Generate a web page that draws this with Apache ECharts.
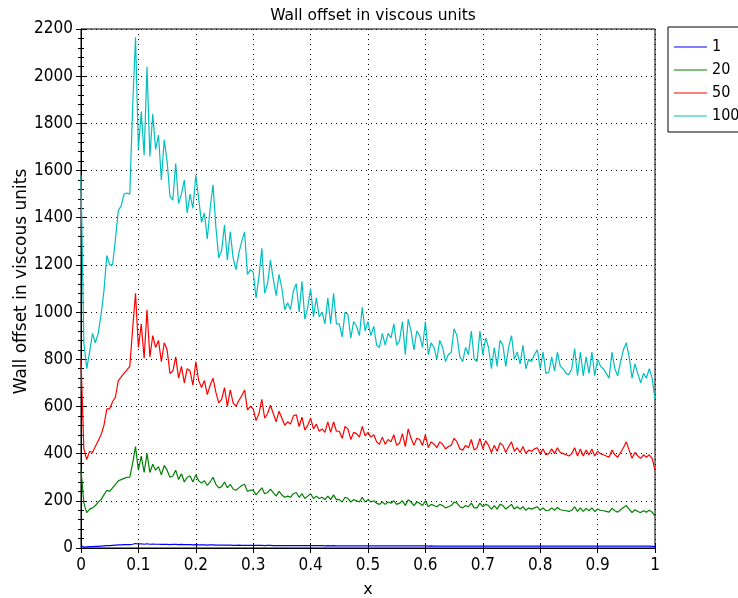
<!DOCTYPE html>
<html>
<head>
<meta charset="utf-8">
<script src="https://cdn.jsdelivr.net/npm/echarts@6/dist/echarts.min.js"></script>
<style>
  html, body { margin: 0; padding: 0; background: #fff; }
  #chart { width: 738px; height: 598px; }
</style>
</head>
<body>
<div id="chart"></div>
<script>
// Wall offset in viscous units along x, for four cases (1, 20, 50, 100).
// Samples are taken every 0.005 in x, from 0 to 1.
const sampleStep = 0.005;
const seriesNames = ['1', '20', '50', '100'];
const xTicks = ['0', '0.1', '0.2', '0.3', '0.4', '0.5', '0.6', '0.7', '0.8', '0.9', '1'];

const offset1 = [
  10, 4, 5, 6, 6, 7, 7, 8, 9, 10, 10, 11, 12, 13, 13, 14, 14, 14, 16, 19,
  17, 18, 16, 18, 16, 17, 16, 16, 15, 16, 15, 14, 15, 15, 14, 15, 14, 14, 14, 13,
  14, 13, 13, 13, 12, 13, 13, 12, 12, 12, 12, 12, 12, 11, 11, 12, 11, 11, 11, 11,
  11, 11, 11, 11, 10, 11, 11, 10, 10, 10, 10, 10, 10, 10, 10, 10, 10, 10, 10, 10,
  10, 10, 10, 10, 10, 9, 10, 9, 10, 9, 9, 9, 9, 9, 9, 9, 9, 9, 9, 9,
  9, 9, 9, 9, 9, 9, 9, 9, 9, 9, 9, 9, 9, 9, 9, 9, 9, 9, 9, 9,
  9, 8, 9, 8, 8, 8, 8, 8, 8, 8, 8, 8, 8, 8, 8, 8, 8, 8, 8, 8,
  8, 8, 8, 8, 8, 8, 8, 8, 8, 8, 8, 8, 8, 8, 8, 8, 8, 8, 8, 8,
  8, 8, 8, 8, 8, 8, 8, 8, 8, 8, 8, 8, 8, 8, 8, 8, 8, 8, 8, 8,
  8, 8, 8, 8, 8, 8, 8, 8, 8, 8, 8, 8, 8, 8, 8, 8, 8, 8, 8, 7,
  6
];

const offset20 = [
  330, 190, 150, 165, 170, 180, 195, 205, 225, 245, 240, 255, 270, 285, 290, 295, 300, 300, 360, 430,
  330, 390, 320, 400, 320, 355, 330, 345, 310, 350, 330, 300, 305, 330, 290, 315, 280, 300, 305, 280,
  310, 285, 275, 285, 265, 280, 300, 270, 255, 260, 280, 255, 270, 250, 245, 255, 265, 270, 240, 245,
  245, 225, 240, 255, 230, 235, 250, 235, 220, 240, 225, 215, 220, 215, 230, 235, 215, 230, 210, 220,
  230, 210, 220, 210, 215, 205, 220, 205, 225, 205, 205, 195, 215, 210, 195, 205, 200, 195, 215, 195,
  205, 195, 200, 190, 185, 195, 185, 195, 190, 200, 185, 190, 200, 180, 205, 195, 180, 195, 190, 180,
  200, 175, 185, 180, 175, 185, 180, 170, 175, 180, 195, 190, 175, 170, 180, 175, 190, 170, 170, 190,
  175, 185, 180, 165, 180, 165, 185, 180, 165, 175, 185, 165, 175, 165, 175, 160, 170, 165, 170, 175,
  160, 170, 158, 160, 170, 160, 172, 162, 160, 158, 155, 160, 175, 155, 170, 155, 168, 158, 170, 155,
  165, 160, 158, 155, 152, 168, 158, 152, 162, 172, 180, 165, 150, 162, 155, 150, 158, 152, 160, 152,
  135
];

const offset50 = [
  800, 420, 375, 410, 405, 430, 455, 480, 520, 590, 590, 620, 640, 710, 725, 740, 755, 770, 930, 1080,
  850, 950, 805, 1010, 810, 900, 850, 880, 790, 870, 840, 740, 750, 810, 720, 770, 700, 760, 750, 690,
  790, 710, 680, 710, 650, 690, 720, 660, 615, 630, 680, 600, 670, 615, 600, 625, 645, 670, 585, 600,
  590, 540, 570, 630, 550, 570, 605, 570, 535, 580, 550, 520, 535, 525, 560, 565, 515, 555, 500, 520,
  550, 505, 525, 495, 505, 490, 535, 490, 535, 495, 495, 465, 515, 505, 460, 490, 485, 470, 515, 475,
  490, 470, 480, 450, 440, 470, 440, 460, 450, 480, 435, 445, 485, 430, 505, 465, 435, 465, 460, 435,
  480, 425, 450, 440, 425, 450, 440, 420, 430, 435, 465, 450, 420, 415, 435, 425, 460, 415, 425, 465,
  420, 455, 435, 405, 435, 410, 445, 435, 405, 430, 450, 410, 425, 405, 430, 400, 415, 410, 420, 425,
  400, 420, 395, 400, 420, 400, 425, 405, 400, 395, 390, 400, 425, 390, 420, 390, 415, 395, 420, 390,
  410, 400, 395, 390, 385, 415, 395, 385, 405, 425, 450, 415, 380, 405, 390, 380, 395, 385, 395, 380,
  330
];

const offset100 = [
  1580, 870, 760, 830, 910, 870, 910, 990, 1090, 1240, 1200, 1200, 1310, 1430, 1450, 1500, 1505, 1500, 1870, 2165,
  1690, 1850, 1665, 2040, 1660, 1840, 1690, 1750, 1560, 1730, 1640, 1490, 1475, 1630, 1460, 1500, 1560, 1420, 1500, 1440,
  1580, 1480, 1380, 1420, 1310, 1440, 1540, 1360, 1230, 1260, 1370, 1220, 1340, 1230, 1180, 1250, 1300, 1340, 1160, 1180,
  1170, 1060, 1150, 1270, 1080, 1120, 1220, 1140, 1070, 1160, 1100, 1010, 1040, 1010, 1090, 1120, 1000, 1130, 970, 1020,
  1100, 980, 1060, 980, 1000, 950, 1060, 950, 1080, 950, 950, 895, 1000, 990, 890, 960, 940, 900, 1020, 920,
  960, 900, 940, 860, 850, 910, 860, 910, 890, 950, 860, 880, 960, 820, 970, 920, 840, 920, 900, 850,
  960, 820, 870, 850, 800, 880, 850, 790, 820, 830, 930, 900, 810, 790, 850, 820, 920, 800, 790, 920,
  820, 890, 850, 760, 850, 770, 880, 860, 770, 850, 900, 800, 830, 780, 860, 760, 800, 790, 820, 840,
  760, 830, 740, 745, 810, 750, 830, 770, 760, 740, 735, 760, 845, 730, 830, 730, 810, 740, 830, 730,
  800, 770, 760, 740, 720, 830, 760, 730, 790, 840, 870, 810, 720, 780, 740, 700, 740, 720, 760, 720,
  630
];

const seriesValues = [offset1, offset20, offset50, offset100];
const seriesColors = ['#0000ff', '#008000', '#ff0000', '#00bfbf'];

function toPairs(values) {
  return values.map((v, i) => [Number((i * sampleStep).toFixed(3)), v]);
}

const FONT = 'DejaVu Sans';
const FONT_NARROW = 'DejaVu Sans Condensed, DejaVu Sans';
const dotted = { color: '#000', width: 1, type: [1, 4] };

const chart = echarts.init(document.getElementById('chart'), null, { renderer: 'canvas' });

chart.setOption({
  animation: false,
  backgroundColor: '#fff',
  title: {
    text: 'Wall offset in viscous units',
    left: 368,
    textAlign: 'center',
    top: 3,
    textStyle: { fontFamily: FONT, fontSize: 15.5, fontWeight: 'normal', color: '#000' }
  },
  legend: {
    data: seriesNames,
    orient: 'vertical',
    left: 668,
    top: 27,
    padding: [12, 60, 8, 6],
    itemGap: 7,
    itemWidth: 33,
    itemHeight: 1,
    icon: 'rect',
    borderColor: '#000',
    borderWidth: 1,
    textStyle: { fontFamily: FONT_NARROW, fontSize: 16, lineHeight: 16, color: '#000' }
  },
  grid: {
    left: 81, right: 83, top: 29, bottom: 50,
    outerBoundsMode: 'none',
    show: true, borderColor: '#000', borderWidth: 1, containLabel: false
  },
  xAxis: [{
    type: 'value', min: 0, max: 1, interval: 0.1,
    name: 'x', nameLocation: 'middle', nameGap: 34, nameMoveOverlap: false,
    nameTextStyle: { fontFamily: FONT, fontSize: 16, color: '#000' },
    axisLine: { show: true, lineStyle: { color: '#000' } },
    axisTick: { show: true, inside: true, length: 5, lineStyle: { color: '#000' } },
    axisLabel: {
      fontFamily: FONT_NARROW, fontSize: 17, color: '#000', margin: 9,
      formatter: (v) => xTicks[Math.round(v * 10)]
    },
    splitLine: { show: true, lineStyle: dotted }
  }, {
    type: 'value', min: 0, max: 1, interval: 0.1, position: 'top',
    axisLine: { show: true, lineStyle: { color: '#000' } },
    axisTick: { show: true, inside: true, length: 5, lineStyle: { color: '#000' } },
    axisLabel: { show: false },
    splitLine: { show: false }
  }],
  yAxis: [{
    type: 'value', min: 0, max: 2200, interval: 200,
    name: 'Wall offset in viscous units', nameLocation: 'middle', nameGap: 51, nameMoveOverlap: false,
    nameTextStyle: { fontFamily: FONT, fontSize: 17, color: '#000', padding: [0, 0, 0, 14] },
    axisLine: { show: true, lineStyle: { color: '#000' } },
    axisTick: { show: true, inside: true, length: 5, lineStyle: { color: '#000' } },
    minorTick: { show: true, splitNumber: 5, length: 3, lineStyle: { color: '#000' } },
    axisLabel: {
      fontFamily: FONT_NARROW, fontSize: 17, color: '#000', margin: 8,
      formatter: (v) => String(v)
    },
    splitLine: { show: true, lineStyle: dotted }
  }, {
    type: 'value', min: 0, max: 2200, interval: 200, position: 'right',
    axisLine: { show: true, lineStyle: { color: '#000' } },
    axisTick: { show: true, inside: true, length: 5, lineStyle: { color: '#000' } },
    minorTick: { show: true, splitNumber: 5, length: 3, lineStyle: { color: '#000' } },
    axisLabel: { show: false },
    splitLine: { show: false }
  }],
  series: seriesNames.map((name, k) => ({
    name: name,
    type: 'line',
    xAxisIndex: 0,
    yAxisIndex: 0,
    symbol: 'none',
    color: seriesColors[k],
    lineStyle: { width: 1.2, color: seriesColors[k] },
    data: toPairs(seriesValues[k])
  }))
});
</script>
</body>
</html>
